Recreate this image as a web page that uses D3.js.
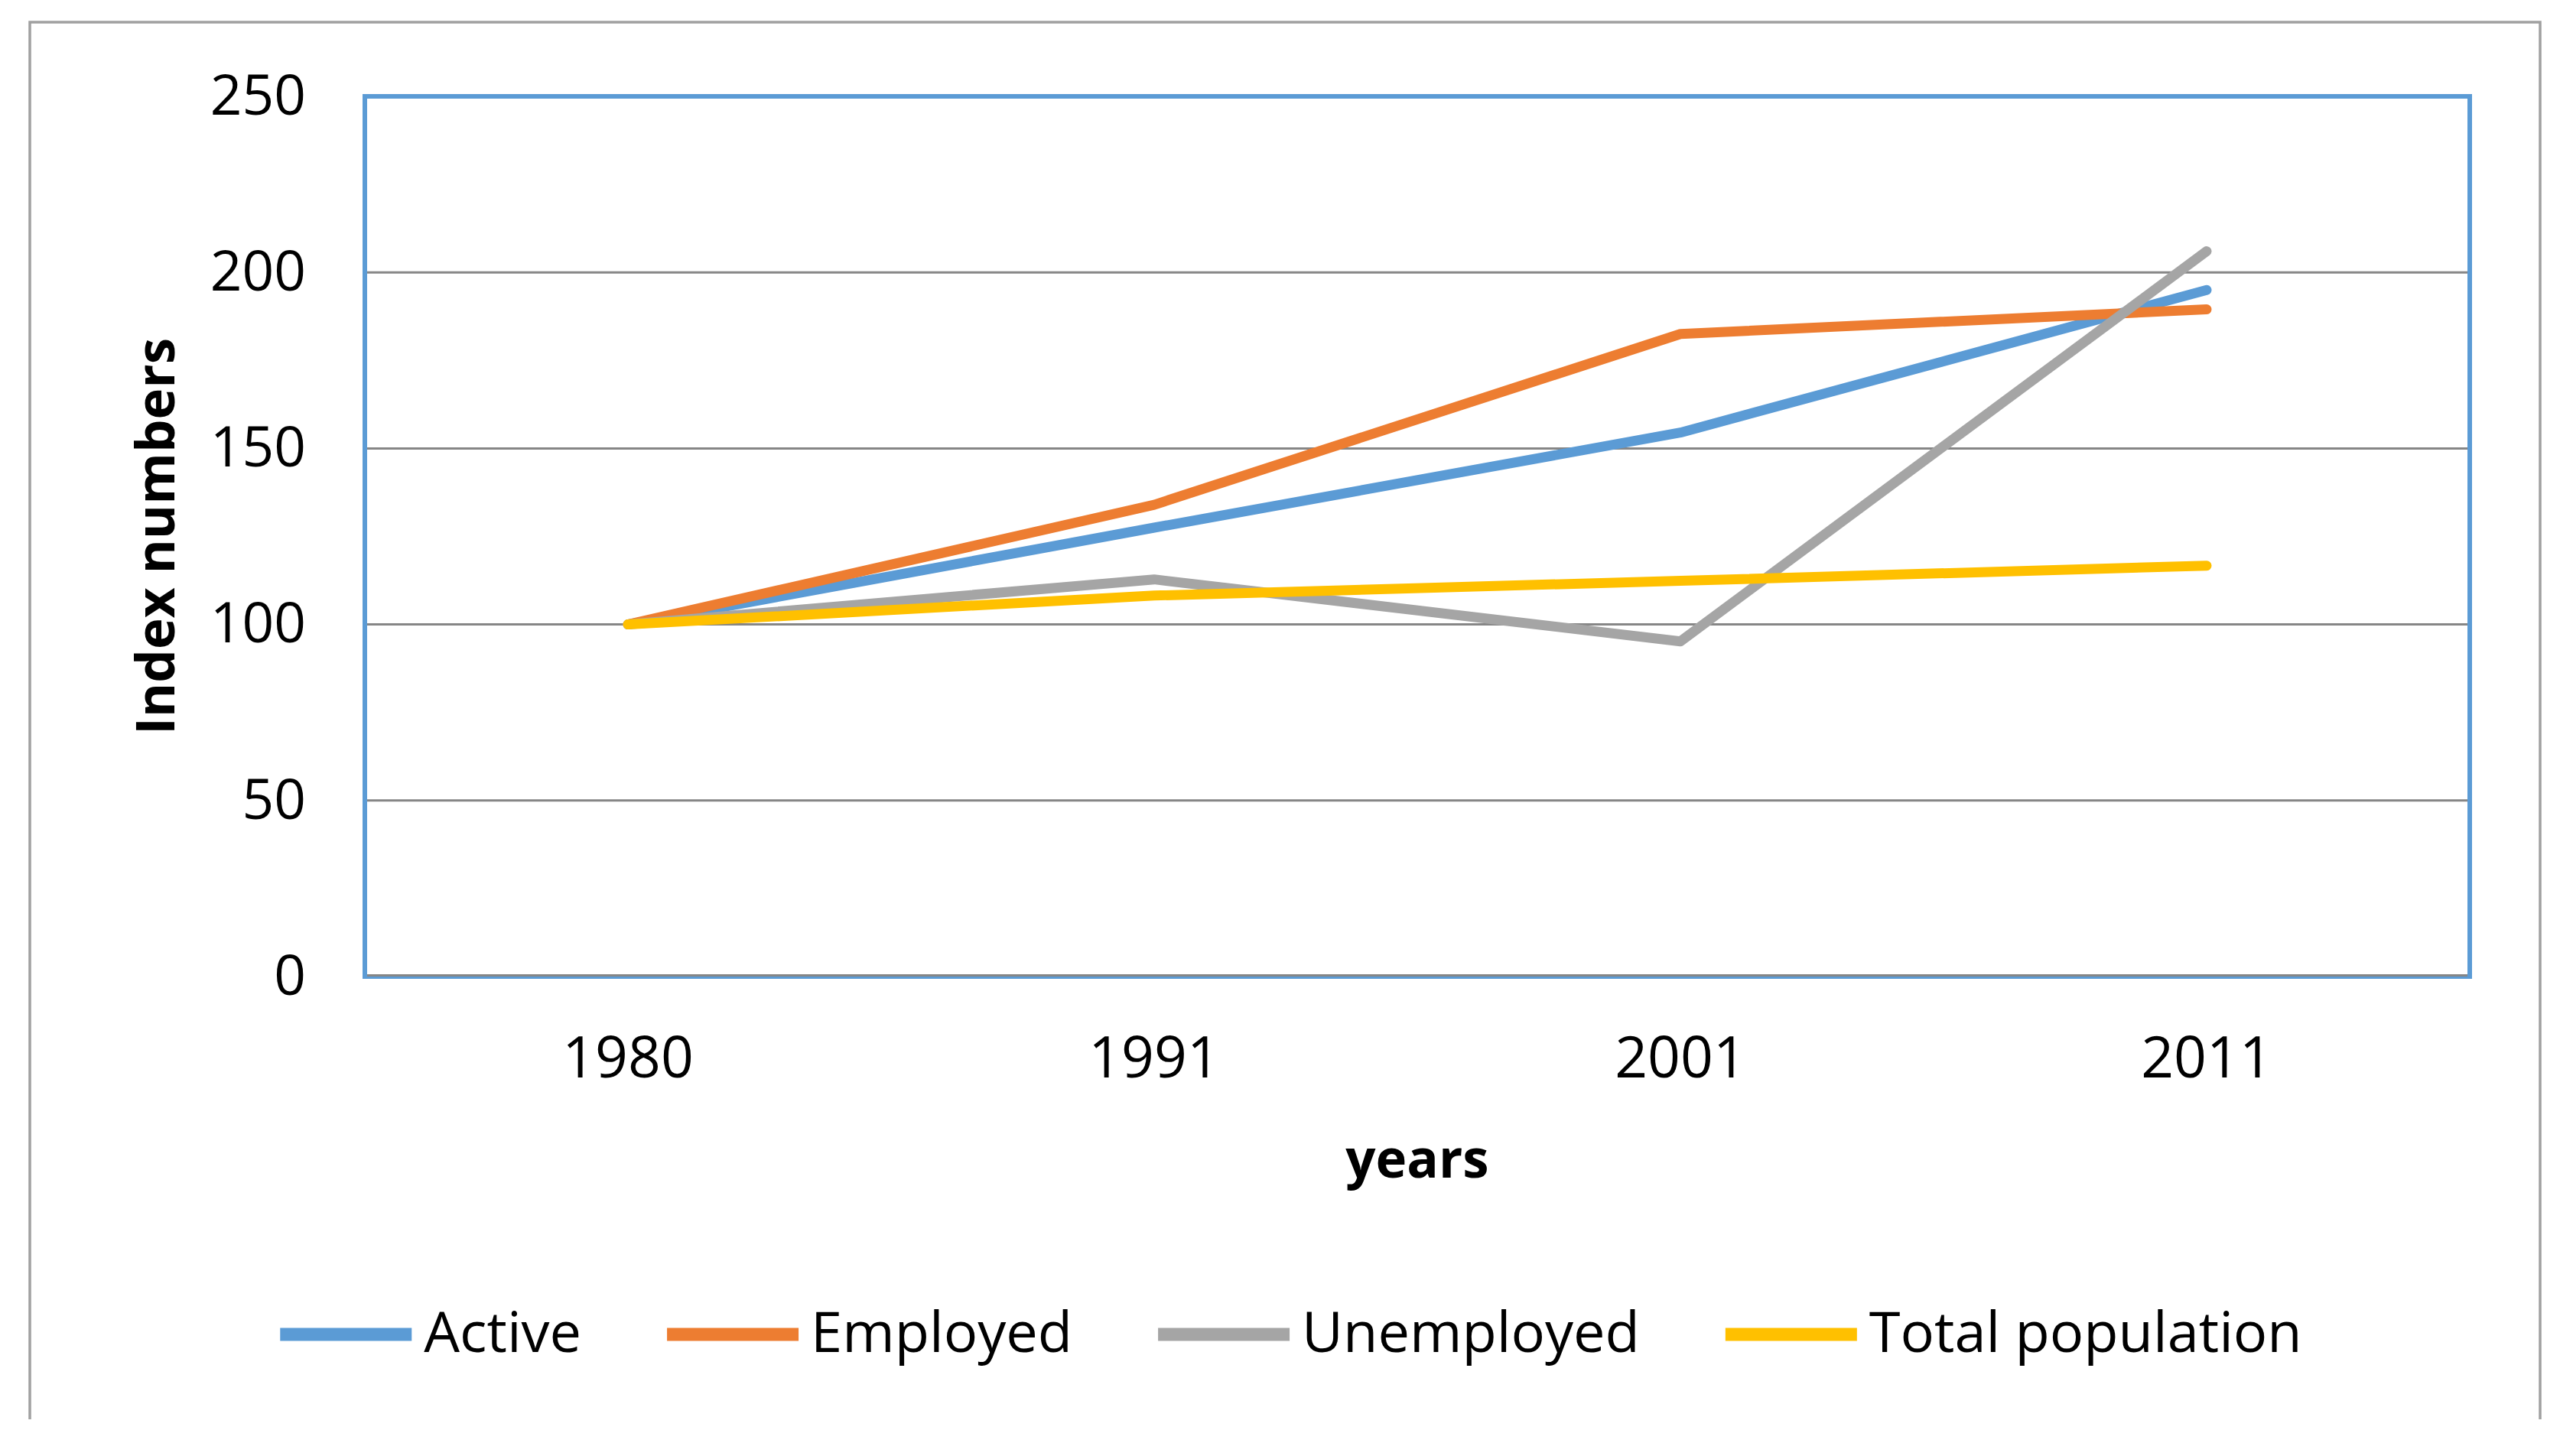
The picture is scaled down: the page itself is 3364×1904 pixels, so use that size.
<!DOCTYPE html>
<html>
<head>
<meta charset="utf-8">
<script src="https://cdn.jsdelivr.net/npm/d3@7"></script>
<style>
  html, body { margin: 0; padding: 0; background: #fff; }
  svg text { font-family: "Open Sans", "Noto Sans", sans-serif; fill: #000; }
</style>
</head>
<body>
<script>
// data
const years = ["1980", "1991", "2001", "2011"];
const active = [100, 127.5, 154.5, 195];
const employed = [100, 134, 182.5, 189.5];
const unemployed = [100, 112.8, 95.2, 206];
const totalPopulation = [100, 108.2, 112.4, 116.7];
const seriesNames = ["Active", "Employed", "Unemployed", "Total population"];
const yTicks = [0, 50, 100, 150, 200, 250];

const colors = ["#5b9bd5", "#ed7d31", "#a5a5a5", "#ffc000"];
const series = [active, employed, unemployed, totalPopulation].map((vals, i) => ({
    name: seriesNames[i], color: colors[i], values: vals
}));

const W = 3364, H = 1904;
const plot = { left: 477, right: 3229, top: 126, bottom: 1277 };

const svg = d3.select("body").append("svg")
    .attr("width", W)
    .attr("height", H);

// outer chart frame (bottom edge is cut off)
svg.append("path")
    .attr("d", `M39,1856 V29 H3321 V1856`)
    .attr("fill", "none")
    .attr("stroke", "#a0a0a0")
    .attr("stroke-width", 3.5);

const x = d3.scaleBand().domain(years).range([plot.left, plot.right]).padding(0);
const y = d3.scaleLinear().domain([0, 250]).range([plot.bottom, plot.top]);
const xc = d => x(d) + x.bandwidth() / 2;

// plot area border
svg.append("rect")
    .attr("x", plot.left)
    .attr("y", plot.top)
    .attr("width", plot.right - plot.left)
    .attr("height", plot.bottom - plot.top)
    .attr("fill", "none")
    .attr("stroke", "#5b9bd5")
    .attr("stroke-width", 6);

// gridlines
svg.append("g")
    .selectAll("line")
    .data(yTicks.filter(t => t < 250))
    .join("line")
    .attr("x1", plot.left + 3)
    .attr("x2", plot.right - 3)
    .attr("y1", d => y(d) - (d === 0 ? 1.5 : 0))
    .attr("y2", d => y(d) - (d === 0 ? 1.5 : 0))
    .attr("stroke", "#868686")
    .attr("stroke-width", 3);

// y axis labels
const yAxis = svg.append("g")
    .attr("transform", `translate(${plot.left},0)`)
    .call(d3.axisLeft(y).tickValues(yTicks).tickSize(0).tickPadding(77));
yAxis.select(".domain").remove();
yAxis.selectAll("text")
    .attr("font-size", 73)
    .attr("font-family", "Open Sans")
    .attr("fill", "#000");

// x axis labels
const xAxis = svg.append("g")
    .attr("transform", `translate(0,${plot.bottom})`)
    .call(d3.axisBottom(x).tickSize(0).tickPadding(0));
xAxis.select(".domain").remove();
xAxis.selectAll("text")
    .attr("font-size", 75)
    .attr("font-family", "Open Sans")
    .attr("fill", "#000")
    .attr("dy", null)
    .attr("y", 132);

// axis titles
svg.append("text")
    .attr("x", (plot.left + plot.right) / 2)
    .attr("y", 1540)
    .attr("text-anchor", "middle")
    .attr("font-size", 69)
    .attr("font-weight", "bold")
    .text("years");

svg.append("text")
    .attr("transform", `translate(228,${(plot.top + plot.bottom) / 2}) rotate(-90)`)
    .attr("text-anchor", "middle")
    .attr("font-size", 69)
    .attr("font-weight", "bold")
    .text("Index numbers");

// lines
const line = d3.line()
    .x((d, i) => xc(years[i]))
    .y(d => y(d));

svg.append("g")
    .selectAll("path")
    .data(series)
    .join("path")
    .attr("d", d => line(d.values))
    .attr("fill", "none")
    .attr("stroke", d => d.color)
    .attr("stroke-width", 13)
    .attr("stroke-linejoin", "round")
    .attr("stroke-linecap", "round");

// legend
const legend = svg.append("g");
const sampleLen = 172, textGap = 16, itemGap = 112, legendY = 1745;
let cx = 0;
series.forEach(s => {
    const item = legend.append("g").attr("transform", `translate(${cx},0)`);
    item.append("line")
        .attr("x1", 0).attr("x2", sampleLen)
        .attr("y1", legendY).attr("y2", legendY)
        .attr("stroke", s.color)
        .attr("stroke-width", 17)
        .attr("stroke-linecap", "butt");
    const t = item.append("text")
        .attr("x", sampleLen + textGap)
        .attr("y", 1768)
        .attr("font-size", 74)
        .text(s.name);
    cx += sampleLen + textGap + t.node().getComputedTextLength() + itemGap;
});
const legendW = cx - itemGap;
legend.attr("transform", `translate(${1688 - legendW / 2},0)`);
</script>
</body>
</html>
